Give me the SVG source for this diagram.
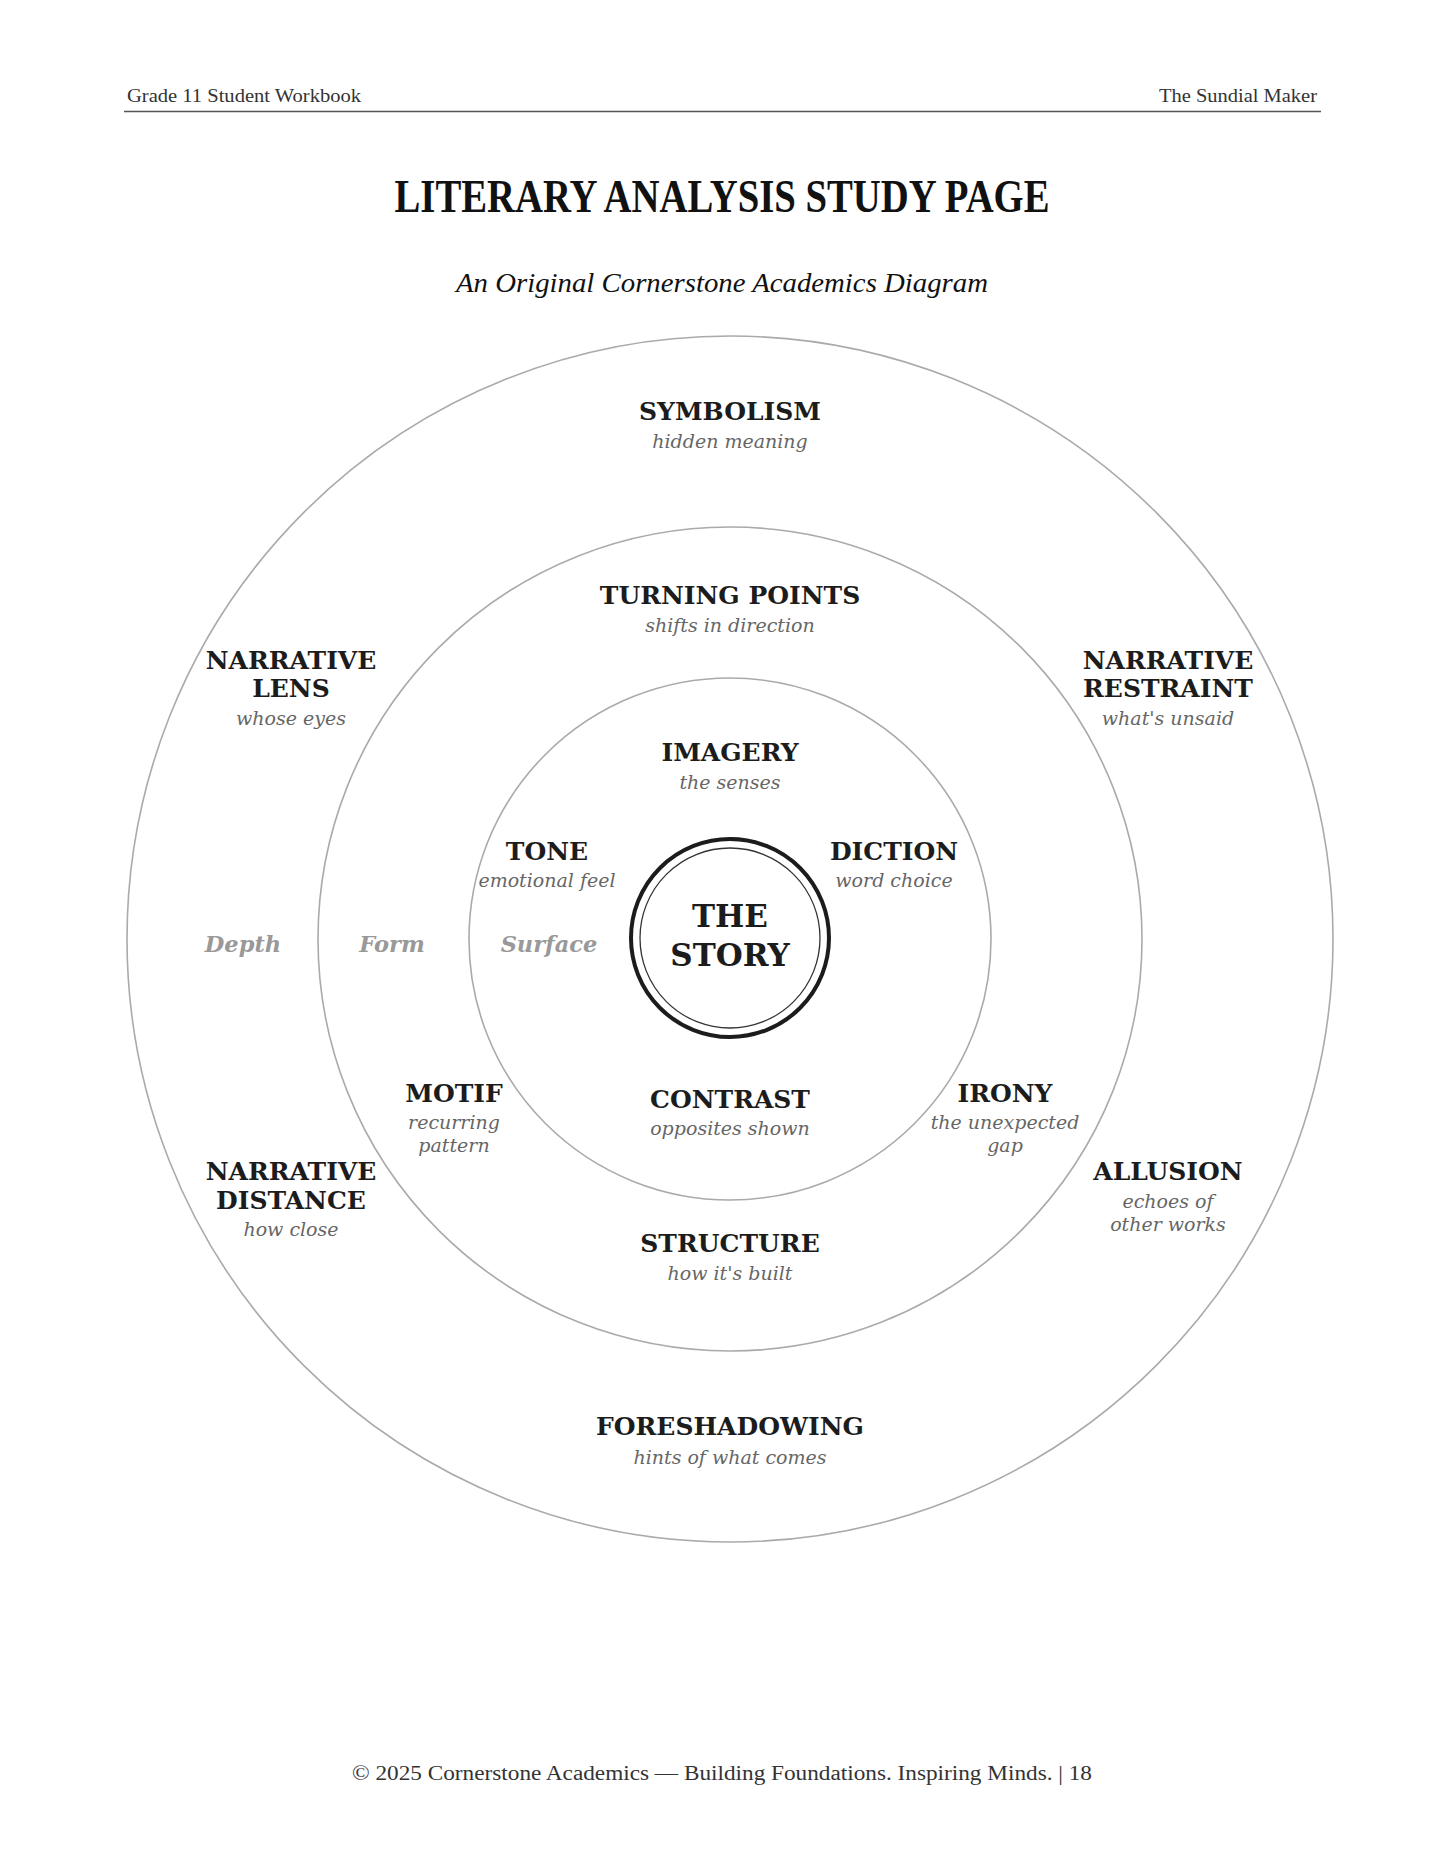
<svg xmlns="http://www.w3.org/2000/svg" width="1445" height="1870" viewBox="0 0 1445 1870">
<style>
.hdr{font-family:"Liberation Serif",serif;font-size:19px;fill:#333}
.ttl{font-family:"Liberation Serif",serif;font-weight:bold;font-size:46px;fill:#111}
.sub{font-family:"Liberation Serif",serif;font-style:italic;font-size:27px;fill:#111}
.ring{fill:none;stroke:#aaa;stroke-width:1.6}
.lbl{font-family:"DejaVu Serif",serif;font-weight:bold;font-size:25px;fill:#1c1c1c;text-anchor:middle}
.dsc{font-family:"DejaVu Serif",serif;font-style:italic;font-size:19px;fill:#666;text-anchor:middle}
.lvl{font-family:"DejaVu Serif",serif;font-style:italic;font-weight:bold;font-size:22.5px;fill:#999;text-anchor:middle}
.core{font-family:"DejaVu Serif",serif;font-weight:bold;font-size:31px;fill:#1c1c1c;text-anchor:middle}
.ftr{font-family:"Liberation Serif",serif;font-size:20px;fill:#333;text-anchor:middle}
</style>
<rect width="1445" height="1870" fill="#fff"/>
<g id="header">
<text class="hdr" x="127" y="102" textLength="234" lengthAdjust="spacingAndGlyphs">Grade 11 Student Workbook</text>
<text class="hdr" x="1159" y="102" textLength="158" lengthAdjust="spacingAndGlyphs">The Sundial Maker</text>
<line x1="124" y1="111.5" x2="1321" y2="111.5" stroke="#555" stroke-width="1.5"/>
</g>
<g id="title">
<text class="ttl" x="722" y="212" text-anchor="middle" textLength="655" lengthAdjust="spacingAndGlyphs">LITERARY ANALYSIS STUDY PAGE</text>
<text class="sub" x="722" y="292" text-anchor="middle" textLength="532" lengthAdjust="spacingAndGlyphs">An Original Cornerstone Academics Diagram</text>
</g>
<g id="rings">
<circle id="ring-depth" class="ring" cx="730" cy="939" r="603"/>
<circle id="ring-form" class="ring" cx="730" cy="939" r="412"/>
<circle id="ring-surface" class="ring" cx="730" cy="939" r="261"/>
</g>
<g id="the-story">
<circle cx="730" cy="938" r="99" fill="#fff" stroke="#1c1c1c" stroke-width="4"/>
<circle cx="730" cy="938" r="90" fill="none" stroke="#333" stroke-width="1.3"/>
<text class="core" x="730" y="927">THE</text>
<text class="core" x="730" y="966">STORY</text>
</g>
<g id="levels">
<text class="lvl" x="243" y="952">Depth</text>
<text class="lvl" x="392" y="952">Form</text>
<text class="lvl" x="549" y="952">Surface</text>
</g>
<g id="symbolism"><text class="lbl" x="730" y="420">SYMBOLISM</text><text class="dsc" x="730" y="448">hidden meaning</text></g>
<g id="turning-points"><text class="lbl" x="730" y="604">TURNING POINTS</text><text class="dsc" x="730" y="632">shifts in direction</text></g>
<g id="narrative-lens"><text class="lbl" x="291" y="669">NARRATIVE</text><text class="lbl" x="291" y="697">LENS</text><text class="dsc" x="291" y="725">whose eyes</text></g>
<g id="narrative-restraint"><text class="lbl" x="1168" y="669">NARRATIVE</text><text class="lbl" x="1168" y="697">RESTRAINT</text><text class="dsc" x="1168" y="725">what's unsaid</text></g>
<g id="imagery"><text class="lbl" x="730" y="761">IMAGERY</text><text class="dsc" x="730" y="789">the senses</text></g>
<g id="tone"><text class="lbl" x="547" y="860">TONE</text><text class="dsc" x="547" y="887">emotional feel</text></g>
<g id="diction"><text class="lbl" x="894" y="860">DICTION</text><text class="dsc" x="894" y="887">word choice</text></g>
<g id="motif"><text class="lbl" x="454" y="1102">MOTIF</text><text class="dsc" x="454" y="1129">recurring</text><text class="dsc" x="454" y="1152">pattern</text></g>
<g id="contrast"><text class="lbl" x="730" y="1108">CONTRAST</text><text class="dsc" x="730" y="1135">opposites shown</text></g>
<g id="irony"><text class="lbl" x="1005" y="1102">IRONY</text><text class="dsc" x="1005" y="1129">the unexpected</text><text class="dsc" x="1005" y="1152">gap</text></g>
<g id="narrative-distance"><text class="lbl" x="291" y="1180">NARRATIVE</text><text class="lbl" x="291" y="1209">DISTANCE</text><text class="dsc" x="291" y="1236">how close</text></g>
<g id="allusion"><text class="lbl" x="1168" y="1180">ALLUSION</text><text class="dsc" x="1168" y="1208">echoes of</text><text class="dsc" x="1168" y="1231">other works</text></g>
<g id="structure"><text class="lbl" x="730" y="1252">STRUCTURE</text><text class="dsc" x="730" y="1280">how it's built</text></g>
<g id="foreshadowing"><text class="lbl" x="730" y="1435">FORESHADOWING</text><text class="dsc" x="730" y="1464">hints of what comes</text></g>
<g id="connectors"></g>
<g id="footer">
<text class="ftr" x="722" y="1780" textLength="740" lengthAdjust="spacingAndGlyphs">© 2025 Cornerstone Academics — Building Foundations. Inspiring Minds. | 18</text>
</g>
</svg>
